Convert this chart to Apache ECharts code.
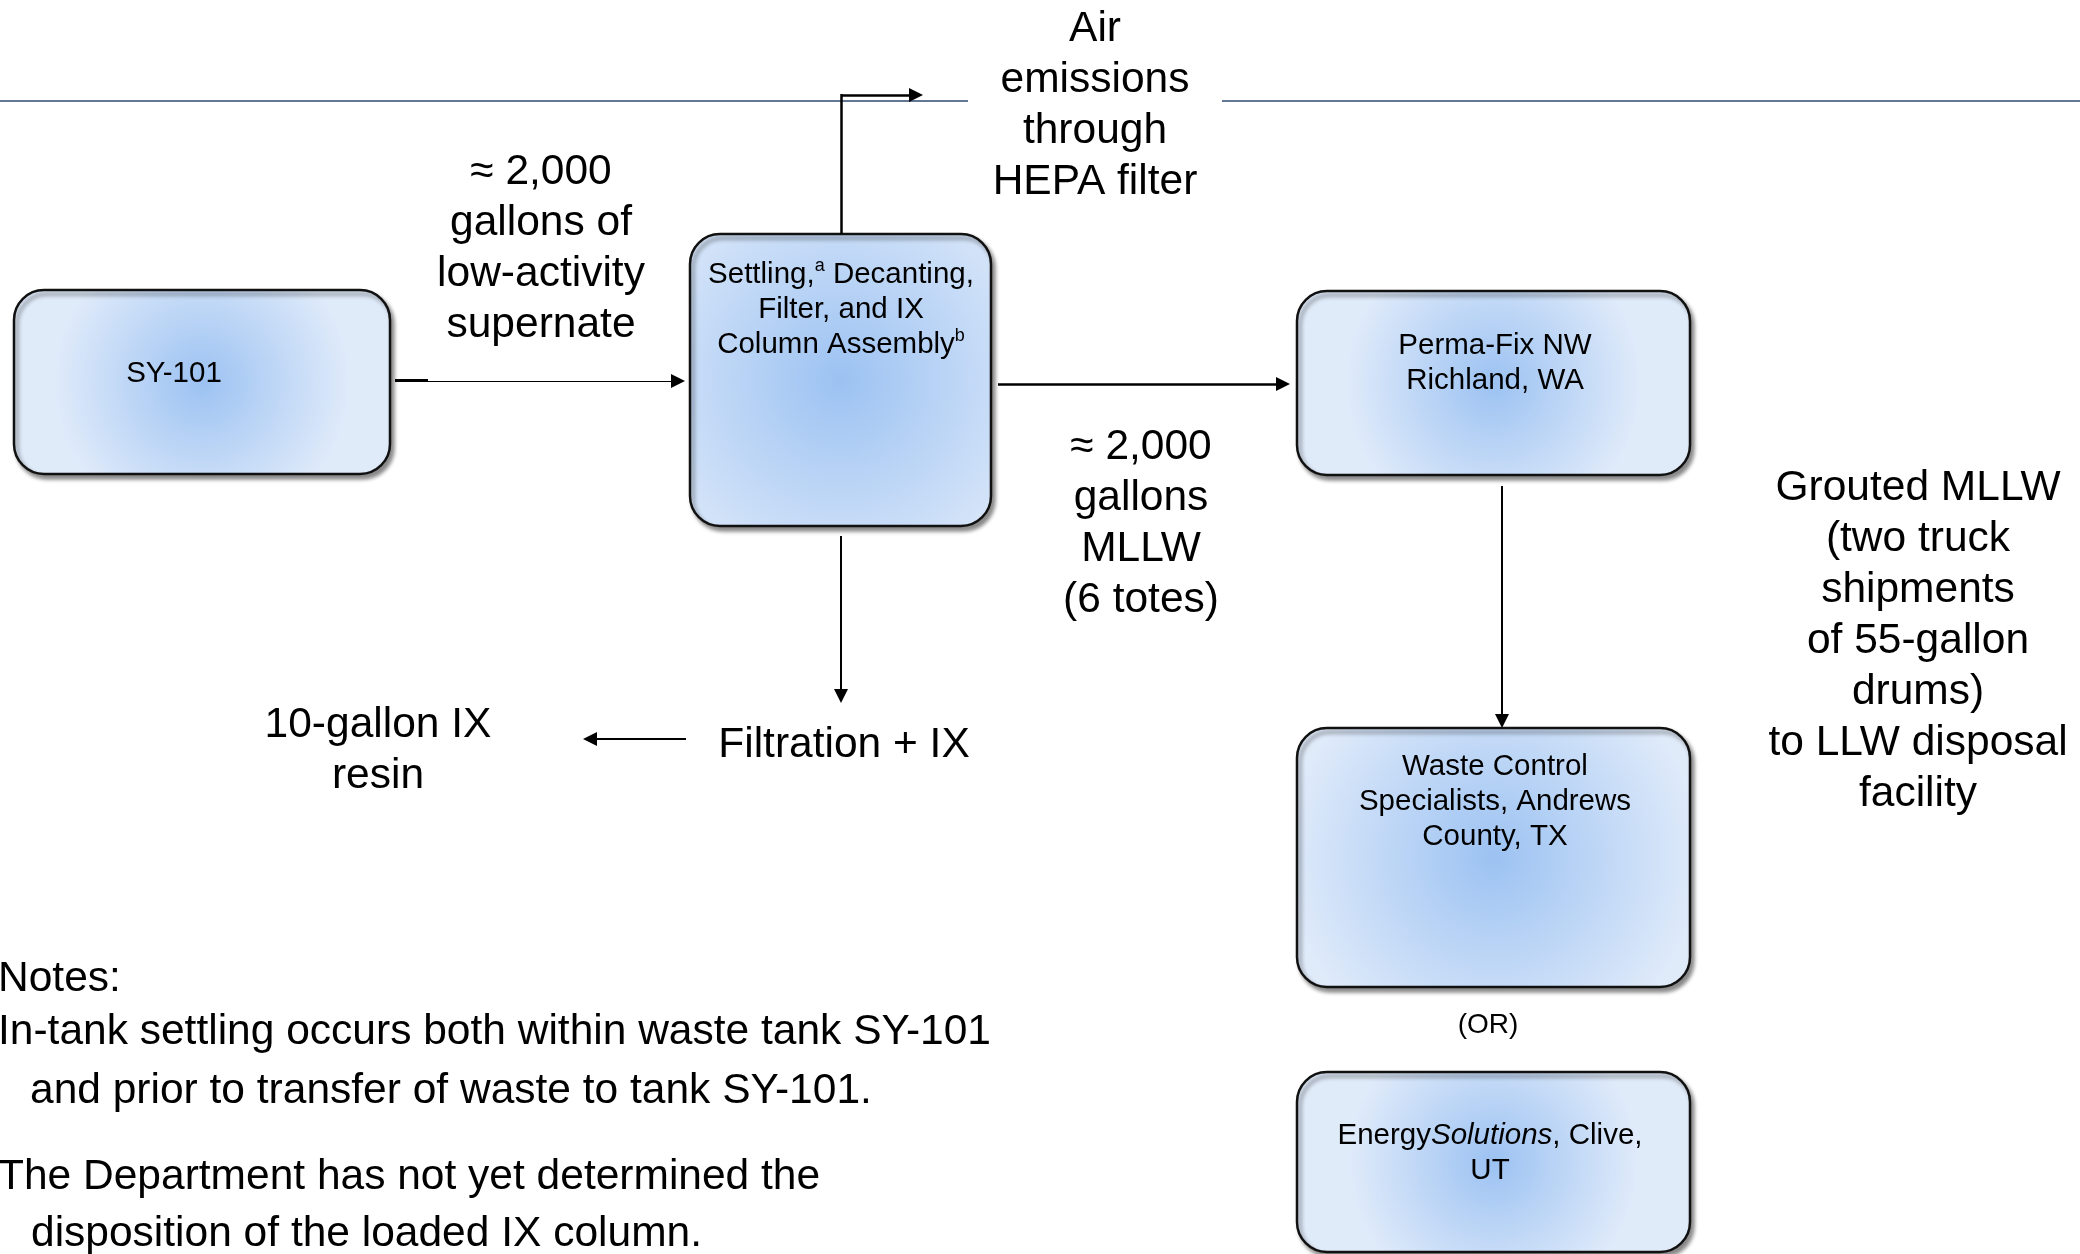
<!DOCTYPE html>
<html>
<head>
<meta charset="utf-8">
<script src="https://cdn.jsdelivr.net/npm/echarts@6/dist/echarts.min.js"></script>
<style>
  html, body { margin: 0; padding: 0; background: #fff; }
  #main { width: 2080px; height: 1254px; }
</style>
</head>
<body>
<div id="main"></div>
<script>
// page is mapped 1:1 onto hidden value axes (x 0..2080, y 0..1254 downwards)
const boxRects = [
  [14, 290, 390, 474],
  [690, 234, 991, 526],
  [1297, 291, 1690, 475],
  [1297, 728, 1690, 987],
  [1297, 1072, 1690, 1252]
]
const boxTexts = [
  'SY-101',
  'Settling,{sup|a} Decanting,\nFilter, and IX\nColumn Assembly{sup|b}',
  'Perma-Fix NW\nRichland, WA',
  'Waste Control\nSpecialists, Andrews\nCounty, TX',
  'Energy{it|Solutions}, Clive,\nUT'
]
const boxTextPos = [[174, 374], [841, 310], [1495, 363], [1495, 802], [1490, 1153]]

const flowLabels = [
  'Air\nemissions\nthrough\nHEPA filter',
  '≈ 2,000\ngallons of\nlow-activity\nsupernate',
  '≈ 2,000\ngallons\nMLLW\n(6 totes)',
  'Grouted MLLW\n(two truck\nshipments\nof 55-gallon\ndrums)\nto LLW disposal\nfacility',
  '10-gallon IX\nresin',
  'Filtration + IX'
]
const flowLabelPos = [[1095, 106], [541, 249], [1141, 524], [1918, 641], [378, 751], [844, 745]]

const orLabel = '(OR)'
const orLabelPos = [1488, 1025]

const noteLines = [
  'Notes:',
  'In-tank settling occurs both within waste tank SY-101',
  'and prior to transfer of waste to tank SY-101.',
  'The Department has not yet determined the',
  'disposition of the loaded IX column.'
]
const noteLinePos = [[-2, 979], [-2, 1032], [30, 1091], [-2, 1177], [31, 1234]]

// arrows end a little short of the tip, the head covers the rest
const arrowPaths = [
  [[428, 381], [678, 381]],
  [[841, 95], [916, 95]],
  [[841, 536], [841, 696]],
  [[686, 739], [590, 739]],
  [[998, 384], [1283, 384]],
  [[1502, 486], [1502, 721]]
]
const arrowWidths = [1.2, 2.5, 2, 2, 2.5, 2]

// plain connector pieces without heads
const plainSegments = [
  [[395, 380], [428, 380]],
  [[841, 234], [841, 94]]
]
const plainWidths = [3, 2.5]

const ruleSegments = [
  [[0, 101], [968, 101]],
  [[1222, 101], [2080, 101]]
]

const FONT = '"Liberation Sans", Arial, sans-serif'

let chart = echarts.init(document.getElementById('main'))

function boxFill () {
  return new echarts.graphic.RadialGradient(0.5, 0.5, 0.8, [
    { offset: 0, color: '#9cc2f2' },
    { offset: 1, color: '#e0ebfa' }
  ])
}

chart.setOption({
  animation: false,
  grid: { left: 0, right: 0, top: 0, bottom: 0 },
  xAxis: { type: 'value', min: 0, max: 2080, show: false },
  yAxis: { type: 'value', min: 0, max: 1254, inverse: true, show: false },
  series: [
    {
      // rule line at the top
      type: 'lines',
      coordinateSystem: 'cartesian2d',
      symbol: 'none',
      lineStyle: { color: '#2e4a6c', width: 1.5, opacity: 1 },
      data: ruleSegments.map(c => ({ coords: c })),
      z: 1
    },
    {
      type: 'lines',
      coordinateSystem: 'cartesian2d',
      symbol: 'none',
      lineStyle: { color: '#000', opacity: 1 },
      data: plainSegments.map((c, i) => ({ coords: c, lineStyle: { width: plainWidths[i] } })),
      z: 3
    },
    {
      type: 'lines',
      coordinateSystem: 'cartesian2d',
      symbol: ['none', 'triangle'],
      symbolSize: [12, 14],
      lineStyle: { color: '#000', opacity: 1 },
      itemStyle: { color: '#000' },
      data: arrowPaths.map((c, i) => ({ coords: c, lineStyle: { width: arrowWidths[i] } })),
      z: 3
    },
    {
      // process boxes
      type: 'custom',
      clip: false,
      z: 2,
      data: boxRects,
      renderItem (params, api) {
        let p0 = api.coord([api.value(0), api.value(1)])
        let p1 = api.coord([api.value(2), api.value(3)])
        return {
          type: 'rect',
          shape: { x: p0[0], y: p0[1], width: p1[0] - p0[0], height: p1[1] - p0[1], r: 30 },
          style: {
            fill: boxFill(),
            stroke: '#111',
            lineWidth: 2.5,
            shadowColor: 'rgba(0,0,0,0.45)',
            shadowBlur: 4,
            shadowOffsetX: 3,
            shadowOffsetY: 4
          }
        }
      }
    },
    {
      // text inside boxes
      type: 'custom',
      clip: false,
      z: 4,
      data: boxTextPos,
      renderItem (params, api) {
        let p = api.coord([api.value(0), api.value(1)])
        return {
          type: 'text',
          x: p[0],
          y: p[1],
          style: {
            text: boxTexts[params.dataIndex],
            fontSize: 29.5,
            fontFamily: FONT,
            lineHeight: 35,
            fill: '#000',
            align: 'center',
            verticalAlign: 'middle',
            rich: {
              sup: { fontSize: 18, fontFamily: FONT, lineHeight: 18, verticalAlign: 'top', fill: '#000' },
              it: { fontSize: 29.5, fontFamily: FONT, fontStyle: 'italic', lineHeight: 35, fill: '#000' }
            }
          }
        }
      }
    },
    {
      // labels along the flow
      type: 'custom',
      clip: false,
      z: 4,
      data: flowLabelPos,
      renderItem (params, api) {
        let p = api.coord([api.value(0), api.value(1)])
        return {
          type: 'text',
          x: p[0],
          y: p[1],
          style: {
            text: flowLabels[params.dataIndex],
            fontSize: 42.5,
            fontFamily: FONT,
            lineHeight: 51,
            fill: '#000',
            align: 'center',
            verticalAlign: 'middle'
          }
        }
      }
    },
    {
      type: 'custom',
      clip: false,
      z: 4,
      data: [orLabelPos],
      renderItem (params, api) {
        let p = api.coord([api.value(0), api.value(1)])
        return {
          type: 'text',
          x: p[0],
          y: p[1],
          style: {
            text: orLabel,
            fontSize: 28,
            fontFamily: FONT,
            fill: '#000',
            align: 'center',
            verticalAlign: 'middle'
          }
        }
      }
    },
    {
      // notes at the bottom left
      type: 'custom',
      clip: false,
      z: 4,
      data: noteLinePos,
      renderItem (params, api) {
        let p = api.coord([api.value(0), api.value(1)])
        return {
          type: 'text',
          x: p[0],
          y: p[1],
          style: {
            text: noteLines[params.dataIndex],
            fontSize: 42.5,
            fontFamily: FONT,
            fill: '#000',
            align: 'left',
            verticalAlign: 'middle'
          }
        }
      }
    }
  ]
})
</script>
</body>
</html>
